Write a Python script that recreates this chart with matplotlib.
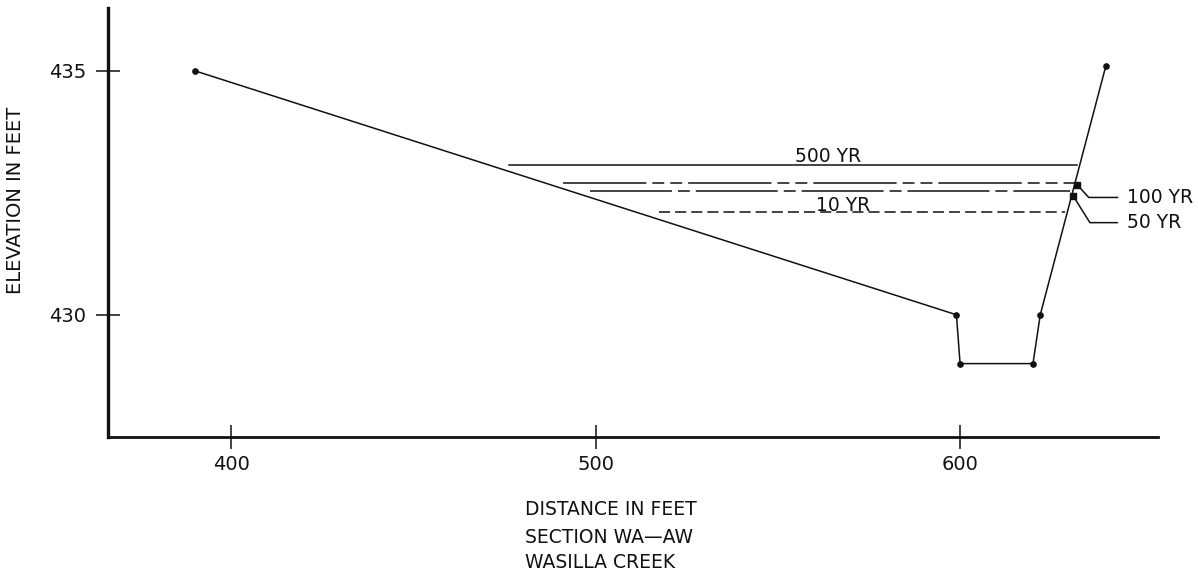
import matplotlib
matplotlib.use("Agg")
import matplotlib.pyplot as plt

plt.rcParams['font.family'] = ['DejaVu Sans']
plt.rcParams['lines.scale_dashes'] = False

# ---- data ----
ground_x = [390, 599, 600, 620, 622, 640]
ground_y = [435.0, 430.0, 429.0, 429.0, 430.0, 435.1]

flood_labels = ['500 YR', '100 YR', '50 YR', '10 YR']
flood_elev = [433.07, 432.71, 432.53, 432.10]
flood_start = [476.3, 491.0, 498.5, 517.5]
flood_end = [632.1, 631.6, 630.2, 628.8]

callout_labels = ['100 YR', '50 YR']
callout_x = [632.2, 631.0]
callout_y = [432.66, 432.44]

xticks = [400, 500, 600]
yticks = [430, 435]

# ---- figure ----
fig = plt.figure(figsize=(11.98, 5.75), dpi=100)
fig.patch.set_facecolor('white')
ax = fig.add_axes([0.0904, 0.2395, 0.8762, 0.7461])
ax.set_xlim(366.3, 654.3)
ax.set_ylim(427.49, 436.28)

ink = '#111111'

# ground profile
ax.plot(ground_x, ground_y, color=ink, lw=1.1, marker='o', ms=3.8,
        mfc=ink, mec=ink, zorder=3)

# water surfaces
styles = {
    '500 YR': dict(linestyle='-'),
    '100 YR': dict(dashes=(60, 4.3, 8.6, 4.3, 8.6, 4.3)),
    '50 YR': dict(dashes=(59, 4.3, 8.6, 4.3)),
    '10 YR': dict(dashes=(8, 3.6)),
}
for lab, e, x0, x1 in zip(flood_labels, flood_elev, flood_start, flood_end):
    ax.plot([x0, x1], [e, e], color=ink, lw=1.1, **styles[lab])

# inline labels
ax.text(563.9, flood_elev[0] + 0.06, '500 YR', ha='center', va='baseline',
        fontsize=13.5, color=ink)
ax.text(568.0, flood_elev[3] + 0.03, '10 YR', ha='center', va='baseline',
        fontsize=13.5, color=ink)

# callouts
offsets = [(36, -9), (39, -19.4)]
angles = [-48, -58]
for lab, cx, cy, off, ang in zip(callout_labels, callout_x, callout_y, offsets, angles):
    ax.plot([cx], [cy], marker='s', ms=4.5, color=ink, zorder=4)
    ax.annotate(lab, xy=(cx, cy), xytext=off, textcoords='offset points',
                ha='left', va='center', fontsize=13.5, color=ink,
                arrowprops=dict(arrowstyle='-', color=ink, lw=1.1,
                                connectionstyle=f'angle,angleA=0,angleB={ang},rad=0',
                                relpos=(0, 0.5), shrinkA=5, shrinkB=0))

# axes styling
for s in ['top', 'right']:
    ax.spines[s].set_visible(False)
ax.spines['left'].set_linewidth(2.4)
ax.spines['bottom'].set_linewidth(2.0)
for s in ['left', 'bottom']:
    ax.spines[s].set_color(ink)
    ax.spines[s].set_capstyle('projecting')

ax.set_xticks(xticks)
ax.set_yticks(yticks)
ax.tick_params(axis='both', direction='inout', length=17, width=1.1,
               labelsize=14, colors=ink)
ax.tick_params(axis='x', pad=4.5)
ax.tick_params(axis='y', pad=7.5)

ax.set_ylabel('ELEVATION IN FEET', fontsize=14, color=ink)
ax.yaxis.set_label_coords(-0.0794, 0.553)

# caption
fig.text(525 / 1198, 1 - 515 / 575, 'DISTANCE IN FEET', ha='left', va='baseline',
         fontsize=13.5, color=ink)
fig.text(525 / 1198, 1 - 543 / 575, 'SECTION WA\u2014AW', ha='left', va='baseline',
         fontsize=13.5, color=ink)
fig.text(525 / 1198, 1 - 568 / 575, 'WASILLA CREEK', ha='left', va='baseline',
         fontsize=13.5, color=ink)

fig.savefig('out.png', dpi=100, facecolor='white')
